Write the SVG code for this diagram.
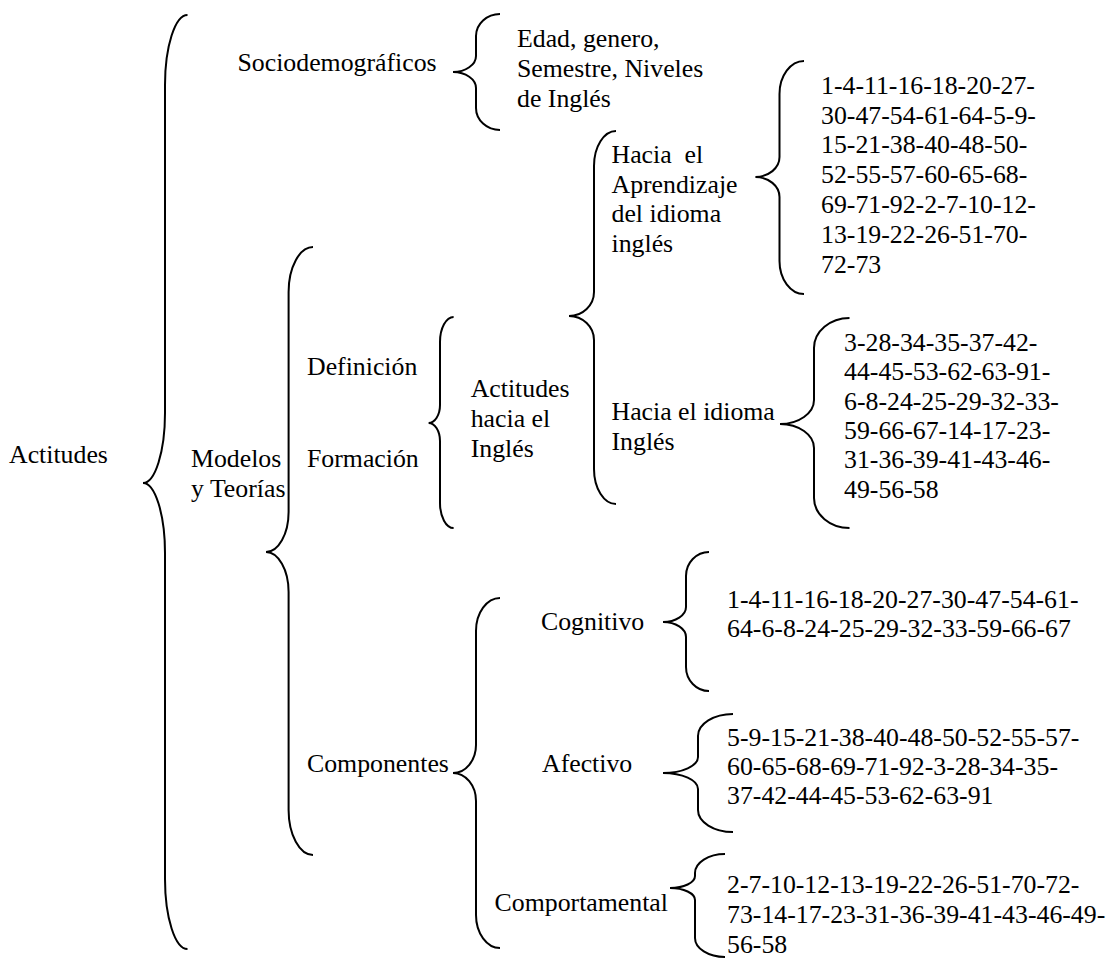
<svg xmlns="http://www.w3.org/2000/svg" width="1117" height="961" viewBox="0 0 1117 961" font-family="'Liberation Serif', 'DejaVu Serif', serif">
<style>
text{font-family:'Liberation Serif','DejaVu Serif',serif;font-size:25.8px;fill:#000;white-space:pre}
.br{fill:none;stroke:#000;stroke-width:2}
</style>
<rect width="1117" height="961" fill="#fff"/>
<g id="connectors">
<path class="br" d="M187.5,15 C175.1,15 165,46.5 165,85 L165,413 C165,451.5 155.1,483 143,483 C155.1,483 165,514.5 165,553 L165,879 C165,917.5 175.1,949 187.5,949"/>
<path class="br" d="M500,14 C486.8,14 476,23.9 476,36 L476,56 C476,64.8 465.65,72 453,72 C465.65,72 476,79.2 476,88 L476,108 C476,120.1 486.8,130 500,130"/>
<path class="br" d="M313,247 C299.6,247 288.6,267.25 288.6,292 L288.6,512 C288.6,534 278.4,552 266,552 C278.4,552 288.6,570 288.6,592 L288.6,810 C288.6,834.75 299.6,855 313,855"/>
<path class="br" d="M453.6,317 C446.1,317 440,328.25 440,342 L440,405 C440,414.9 434.9,423 428.6,423 C434.9,423 440,431.1 440,441 L440,503 C440,516.75 446.1,528 453.6,528"/>
<path class="br" d="M616,131 C603.9,131 594,146.75 594,166 L594,292 C594,305.2 582.75,316 569,316 C582.75,316 594,326.8 594,340 L594,469 C594,488.25 603.9,504 616,504"/>
<path class="br" d="M804,61 C790.5,61 779.5,75.85 779.5,94 L779.5,157 C779.5,168 768.65,177 755.4,177 C768.65,177 779.5,186 779.5,197 L779.5,261 C779.5,279.15 790.5,294 804,294"/>
<path class="br" d="M849.5,318 C830,318 814,331.5 814,348 L814,400 C814,413.2 798.7,424 780,424 C798.7,424 814,434.8 814,448 L814,498 C814,514.5 830,528 849.5,528"/>
<path class="br" d="M500,598 C486.8,598 476,612.85 476,631 L476,745 C476,760.4 465.65,773 453,773 C465.65,773 476,785.6 476,801 L476,915 C476,933.15 486.8,948 500,948"/>
<path class="br" d="M709,552 C696.35,552 686,562.8 686,576 L686,607 C686,615.25 675.65,622 663,622 C675.65,622 686,628.75 686,637 L686,667 C686,680.2 696.35,691 709,691"/>
<path class="br" d="M733,714 C713.75,714 698,723.9 698,736 L698,757 C698,765.8 682.25,773 663,773 C682.25,773 698,780.2 698,789 L698,810 C698,822.1 713.75,832 733,832"/>
<path class="br" d="M725,854 C708.5,854 695,862.55 695,873 L695,876 C695,882.6 683.75,888 670,888 C683.75,888 695,893.4 695,900 L695,938 C695,948.45 708.5,957 725,957"/>
</g>
<g id="actitudes"><text x="9" y="463">Actitudes</text></g>
<g id="socio"><text x="237.5" y="71">Sociodemográficos</text></g>
<g id="socio-items"><text x="517" y="47">Edad, genero,</text><text x="517" y="77">Semestre, Niveles</text><text x="517" y="107">de Inglés</text></g>
<g id="modelos"><text x="191" y="467">Modelos</text><text x="191" y="497">y Teorías</text></g>
<g id="definicion"><text x="307" y="375">Definición</text></g>
<g id="formacion"><text x="307" y="467">Formación</text></g>
<g id="actitudes-ingles"><text x="470.7" y="397">Actitudes</text><text x="470.7" y="427">hacia el</text><text x="470.7" y="457">Inglés</text></g>
<g id="hacia-aprendizaje"><text x="611.5" y="163">Hacia  el</text><text x="611.5" y="193">Aprendizaje</text><text x="611.5" y="222">del idioma</text><text x="611.5" y="252">inglés</text></g>
<g id="lista-aprendizaje"><text x="821" y="94">1-4-11-16-18-20-27-</text><text x="821" y="123.5">30-47-54-61-64-5-9-</text><text x="821" y="153">15-21-38-40-48-50-</text><text x="821" y="183">52-55-57-60-65-68-</text><text x="821" y="213">69-71-92-2-7-10-12-</text><text x="821" y="242.5">13-19-22-26-51-70-</text><text x="821" y="272.5">72-73</text></g>
<g id="hacia-idioma"><text x="611.5" y="420">Hacia el idioma</text><text x="611.5" y="450">Inglés</text></g>
<g id="lista-idioma"><text x="844" y="351">3-28-34-35-37-42-</text><text x="844" y="380">44-45-53-62-63-91-</text><text x="844" y="410">6-8-24-25-29-32-33-</text><text x="844" y="439">59-66-67-14-17-23-</text><text x="844" y="468">31-36-39-41-43-46-</text><text x="844" y="498">49-56-58</text></g>
<g id="componentes"><text x="307" y="772">Componentes</text></g>
<g id="cognitivo"><text x="541" y="630">Cognitivo</text></g>
<g id="lista-cognitivo"><text x="727" y="608">1-4-11-16-18-20-27-30-47-54-61-</text><text x="727" y="637">64-6-8-24-25-29-32-33-59-66-67</text></g>
<g id="afectivo"><text x="542" y="772">Afectivo</text></g>
<g id="lista-afectivo"><text x="727" y="746">5-9-15-21-38-40-48-50-52-55-57-</text><text x="727" y="775">60-65-68-69-71-92-3-28-34-35-</text><text x="727" y="804">37-42-44-45-53-62-63-91</text></g>
<g id="comportamental"><text x="494.6" y="911">Comportamental</text></g>
<g id="lista-comportamental"><text x="727" y="893">2-7-10-12-13-19-22-26-51-70-72-</text><text x="727" y="923">73-14-17-23-31-36-39-41-43-46-49-</text><text x="727" y="953">56-58</text></g>
</svg>
